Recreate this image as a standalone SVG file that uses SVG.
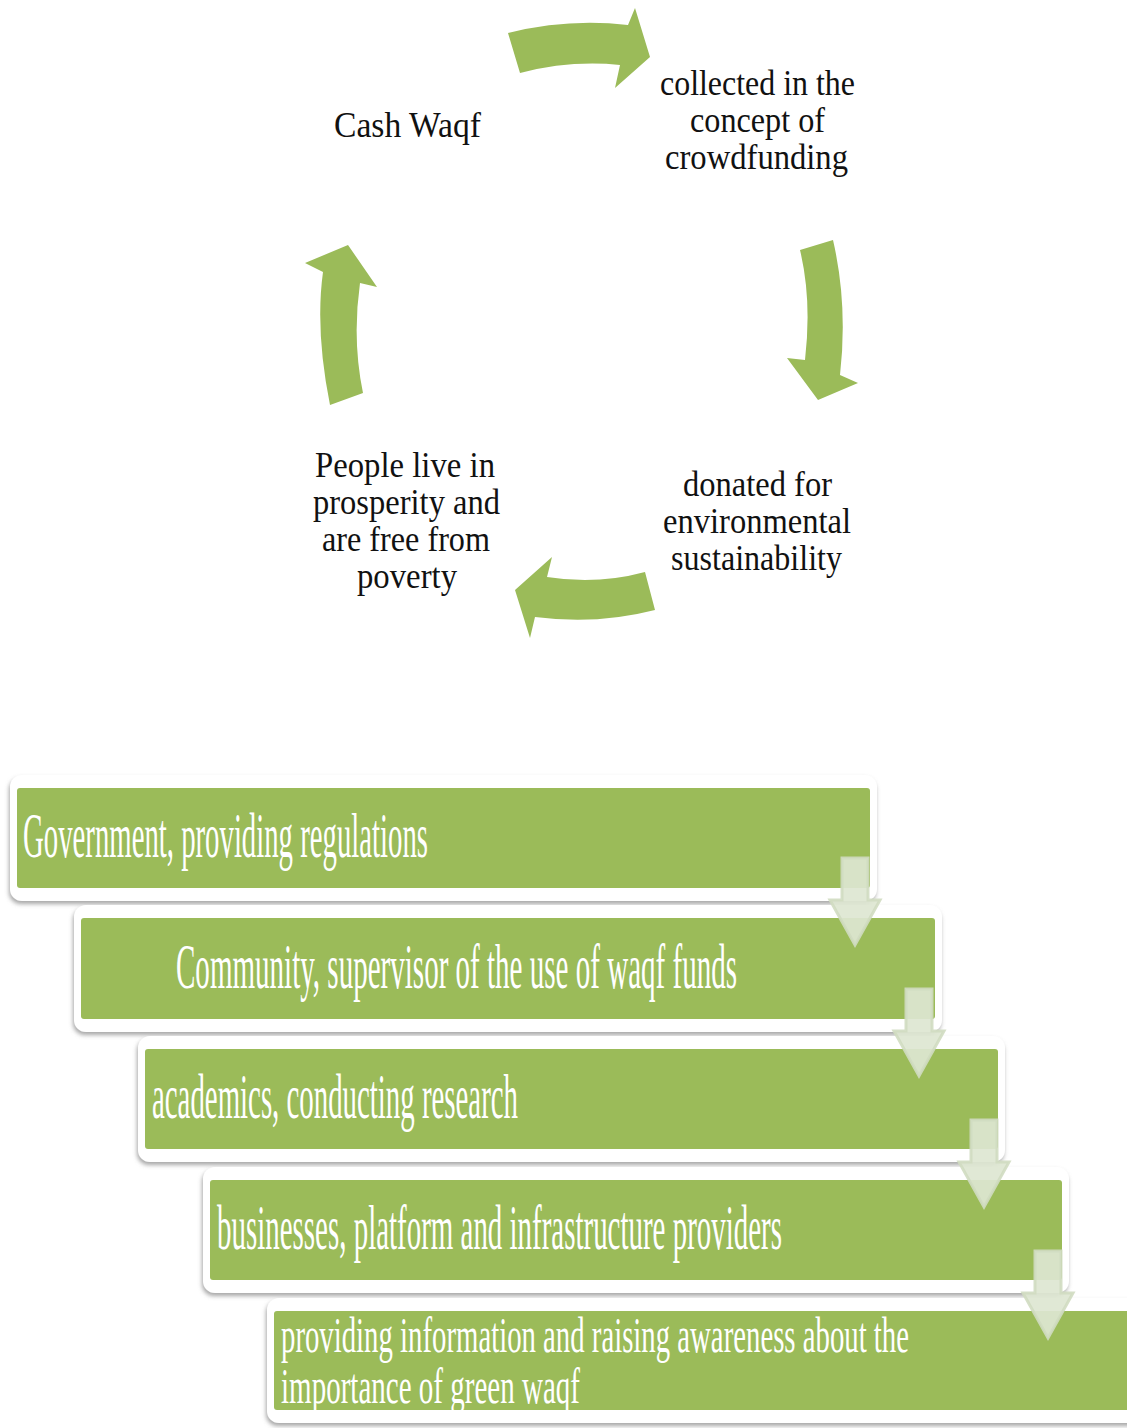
<svg xmlns="http://www.w3.org/2000/svg" width="1127" height="1428" viewBox="0 0 1127 1428">
<defs>
<style>
.cyc{fill:#9bbb59}
.ct{font-family:"Liberation Serif","Times New Roman",serif;font-size:36px;fill:#111}
.frame{fill:#fff;filter:url(#sh)}
.grn{fill:#9bbb59}
.bt{font-family:"Liberation Serif","Times New Roman",serif;font-size:64px;fill:#fff}
.bt5{font-size:50px}
.da{fill:#dde6d1;fill-opacity:0.92;stroke:#d0dcc1;stroke-width:3;stroke-opacity:0.9}
</style>
<filter id="sh" x="-5%" y="-20%" width="110%" height="150%">
<feDropShadow dx="-1" dy="3" stdDeviation="2" flood-color="#777" flood-opacity="0.65"/>
</filter>
</defs>

<g id="cycle-arrows">
<path class="cyc" d="M508,33 Q568,18 628,25 L635,8 L650,57 L615,88 L620,65 Q570,60 520,73 Z"/>
<path class="cyc" d="M800,250 L833,240 Q848,305 840,375 L858,383 L818,400 L787,358 L805,360 Q812,300 800,250 Z"/>
<path class="cyc" d="M645,572 L655,610 Q597,625 535,617 L530,638 L515,590 L552,557 L547,577 Q597,585 645,572 Z"/>
<path class="cyc" d="M330,405 Q315,330 323,272 L305,263 L348,245 L377,287 L360,283 Q352,340 363,393 Z"/>
</g>

<g id="node-cash-waqf">
<text class="ct" x="334" y="137" textLength="147" lengthAdjust="spacingAndGlyphs">Cash Waqf</text>
</g>
<g id="node-collected">
<text class="ct" x="660" y="95" textLength="195" lengthAdjust="spacingAndGlyphs">collected in the</text>
<text class="ct" x="690" y="132" textLength="135" lengthAdjust="spacingAndGlyphs">concept of</text>
<text class="ct" x="665" y="169" textLength="183" lengthAdjust="spacingAndGlyphs">crowdfunding</text>
</g>
<g id="node-donated">
<text class="ct" x="683" y="496" textLength="149" lengthAdjust="spacingAndGlyphs">donated for</text>
<text class="ct" x="663" y="533" textLength="188" lengthAdjust="spacingAndGlyphs">environmental</text>
<text class="ct" x="671" y="570" textLength="171" lengthAdjust="spacingAndGlyphs">sustainability</text>
</g>
<g id="node-people">
<text class="ct" x="315" y="477" textLength="180" lengthAdjust="spacingAndGlyphs">People live in</text>
<text class="ct" x="313" y="514" textLength="187" lengthAdjust="spacingAndGlyphs">prosperity and</text>
<text class="ct" x="322" y="551" textLength="168" lengthAdjust="spacingAndGlyphs">are free from</text>
<text class="ct" x="357" y="588" textLength="100" lengthAdjust="spacingAndGlyphs">poverty</text>
</g>

<g id="box-government">
<rect class="frame" x="10" y="775" width="867" height="126" rx="12"/>
<rect class="grn" x="17" y="788" width="853" height="100" rx="3"/>
<text class="bt" x="23" y="857" textLength="405" lengthAdjust="spacingAndGlyphs">Government, providing regulations</text>
</g>
<g id="box-community">
<rect class="frame" x="74" y="905" width="868" height="127" rx="12"/>
<rect class="grn" x="81" y="918" width="854" height="101" rx="3"/>
<text class="bt" x="176" y="988" textLength="561" lengthAdjust="spacingAndGlyphs">Community, supervisor of the use of waqf funds</text>
</g>
<g id="box-academics">
<rect class="frame" x="138" y="1036" width="867" height="126" rx="12"/>
<rect class="grn" x="145" y="1049" width="853" height="100" rx="3"/>
<text class="bt" x="152" y="1118" textLength="366" lengthAdjust="spacingAndGlyphs">academics, conducting research</text>
</g>
<g id="box-businesses">
<rect class="frame" x="203" y="1167" width="866" height="126" rx="12"/>
<rect class="grn" x="210" y="1180" width="852" height="100" rx="3"/>
<text class="bt" x="217" y="1249" textLength="565" lengthAdjust="spacingAndGlyphs">businesses, platform and infrastructure providers</text>
</g>
<g id="box-information">
<rect class="frame" x="267" y="1298" width="900" height="125" rx="12"/>
<rect class="grn" x="274" y="1311" width="900" height="99" rx="3"/>
<text class="bt bt5" x="281" y="1352" textLength="628" lengthAdjust="spacingAndGlyphs">providing information and raising awareness about the</text>
<text class="bt bt5" x="281" y="1403" textLength="299" lengthAdjust="spacingAndGlyphs">importance of green waqf</text>
</g>

<g id="connectors">
<path class="da" d="M842,858 H868 V900 H880 L855,945 L830,900 H842 Z"/>
<path class="da" d="M906,989 H932 V1031 H944 L919,1076 L894,1031 H906 Z"/>
<path class="da" d="M971,1120 H997 V1162 H1009 L984,1207 L959,1162 H971 Z"/>
<path class="da" d="M1035,1251 H1061 V1293 H1073 L1048,1338 L1023,1293 H1035 Z"/>
</g>
</svg>
